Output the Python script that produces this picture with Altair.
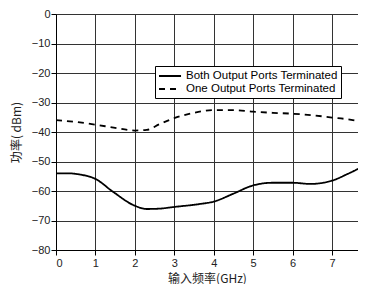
import altair as alt
import pandas as pd

series_names = ["Both Output Ports Terminated", "One Output Ports Terminated"]

both_x = [0, 0.3, 0.6, 1.0, 1.45, 2.0, 2.3, 2.6, 3.0, 3.65, 4.0, 4.5, 5.0, 5.5, 6.0, 6.45, 7.0, 7.4, 7.85]
both_y = [-54.0, -54.0, -54.4, -55.9, -60.3, -65.0, -66.1, -66.0, -65.4, -64.4, -63.6, -60.9, -58.1, -57.2, -57.2, -57.6, -56.5, -54.2, -51.2]

one_x = [0, 0.5, 1.0, 1.5, 2.0, 2.3, 2.63, 3.0, 3.5, 4.0, 4.5, 5.0, 5.5, 6.0, 6.5, 7.0, 7.4, 7.85]
one_y = [-36.0, -36.6, -37.5, -38.6, -39.5, -39.3, -37.3, -35.3, -33.5, -32.6, -32.6, -33.1, -33.5, -33.8, -34.3, -35.1, -35.7, -36.8]

rows = [{"x": a, "y": b, "s": series_names[0]} for a, b in zip(both_x, both_y)]
rows += [{"x": a, "y": b, "s": series_names[1]} for a, b in zip(one_x, one_y)]
df = pd.DataFrame(rows)

x_ticks = [0, 0.5, 1, 1.5, 2, 2.5, 3, 3.5, 4, 4.5, 5, 5.5, 6, 6.5, 7, 7.5]
y_ticks = [0, -10, -20, -30, -40, -50, -60, -70, -80]

minor = "datum.value % 1 !== 0"

chart = alt.Chart(df).mark_line(color="black", strokeWidth=1.8, interpolate="monotone", clip=True).encode(
    x=alt.X("x:Q", scale=alt.Scale(domain=[0, 7.66], nice=False),
            axis=alt.Axis(values=x_ticks, title="输入频率(GHz)", grid=True, gridColor="#333333",
                          gridOpacity={"condition": {"test": minor, "value": 0}, "value": 1},
                          tickSize={"condition": {"test": minor, "value": 3}, "value": 5},
                          labelExpr="datum.value % 1 === 0 ? datum.label : ''",
                          format="d", gridWidth=1, domainColor="black",
                          tickColor="black", labelFontSize=11, titleFontSize=12,
                          labelFont="Liberation Sans", titleFont="Noto Sans CJK SC",
                          labelColor="#222222", titleColor="#222222", titlePadding=5,
                          labelPadding=2, titleFontWeight="normal")),
    y=alt.Y("y:Q", scale=alt.Scale(domain=[-80, 0], nice=False),
            axis=alt.Axis(values=y_ticks, title="功率( dBm)", grid=True, gridColor="#333333",
                          gridOpacity=1, gridWidth=1, domainColor="black", tickColor="black",
                          labelFontSize=11, titleFontSize=12, labelFont="Liberation Sans",
                          titleFont="Noto Sans CJK SC", labelColor="#222222", titleColor="#222222",
                          tickSize=5, labelPadding=1, titlePadding=8, titleFontWeight="normal")),
    strokeDash=alt.StrokeDash("s:N", scale=alt.Scale(domain=series_names, range=[[1, 0], [6, 5]]),
                              legend=alt.Legend(title=None, orient="none", legendX=99, legendY=52,
                                                fillColor="white", strokeColor="black", padding=3,
                                                symbolType="M-1,0H2.67", symbolSize=144, symbolStrokeWidth=1.8,
                                                symbolStrokeColor="black",
                                                labelFont="Liberation Sans", labelFontSize=11.5,
                                                labelColor="black", rowPadding=0, labelOffset=14)),
).properties(width=302, height=236, padding={"left": 2, "top": 0, "right": 0, "bottom": 0}).configure_view(stroke=None)

chart.save("out.html", embed_options={"renderer": "svg", "actions": False})
